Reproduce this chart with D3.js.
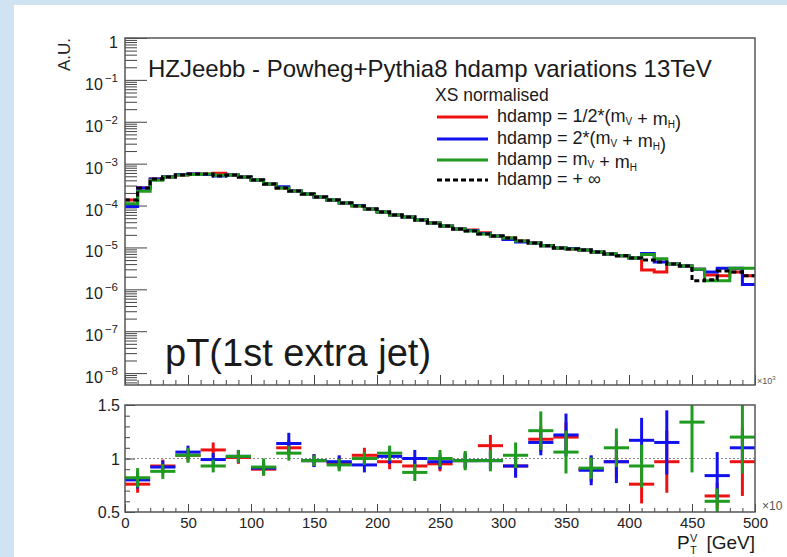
<!DOCTYPE html>
<html><head><meta charset="utf-8">
<script src="https://cdn.jsdelivr.net/npm/d3@7"></script>
<style>
html,body{margin:0;padding:0;background:#cfe3f2;overflow:hidden;}
svg{display:block;font-family:"Liberation Sans",Arial,Helvetica,sans-serif;}
</style></head><body>
<svg id="c" width="787" height="557"></svg>
<script>
// ---------------- data ----------------
const topBinLow = [0,10,20,30,40,50,60,70,80,90,100,110,120,130,140,150,160,170,180,190,
  200,210,220,230,240,250,260,270,280,290,300,310,320,330,340,350,360,370,380,390,
  400,410,420,430,440,450,460,470,480,490];
const topBinWidth = 10;
const ratioBinLow = [0,20,40,60,80,100,120,140,160,180,200,220,240,260,280,300,320,340,360,380,400,420,440,460,480];
const ratioBinWidth = 20;

const seriesNames = ["hdamp = 1/2*(m_V + m_H)","hdamp = 2*(m_V + m_H)","hdamp = m_V + m_H","hdamp = + \u221e"];

// normalised pT distributions (A.U.)
const hHalf = [1.36e-4,2.63e-4,4.31e-4,4.82e-4,5.37e-4,5.68e-4,5.68e-4,5.9e-4,5.37e-4,4.82e-4,
  4.08e-4,3.28e-4,2.63e-4,2.23e-4,1.89e-4,1.60e-4,1.36e-4,1.15e-4,9.8e-5,8.3e-5,
  7.0e-5,5.97e-5,5.35e-5,4.53e-5,3.84e-5,3.26e-5,2.76e-5,2.6e-5,2.25e-5,1.88e-5,
  1.69e-5,1.43e-5,1.28e-5,1.09e-5,9.7e-6,9.2e-6,8.7e-6,7.8e-6,7.0e-6,6.3e-6,
  5.6e-6,2.9e-6,2.6e-6,4.0e-6,3.6e-6,3.0e-6,2.2e-6,2.1e-6,2.6e-6,2.1e-6];
const hTwo = [9.5e-5,2.63e-4,4.31e-4,4.9e-4,5.5e-4,5.68e-4,5.5e-4,5.1e-4,5.37e-4,4.82e-4,
  4.08e-4,3.28e-4,2.8e-4,2.23e-4,1.89e-4,1.60e-4,1.36e-4,1.15e-4,1.0e-4,8.3e-5,
  7.0e-5,5.97e-5,5.35e-5,4.53e-5,3.84e-5,3.26e-5,2.76e-5,2.55e-5,2.15e-5,1.88e-5,
  1.55e-5,1.35e-5,1.28e-5,1.09e-5,9.7e-6,9.4e-6,8.7e-6,7.8e-6,7.0e-6,6.3e-6,
  5.6e-6,7.2e-6,4.5e-6,4.0e-6,3.6e-6,3.0e-6,2.6e-6,3.2e-6,3.2e-6,1.3e-6];
const hOne = [1.1e-4,2.2e-4,4.0e-4,4.82e-4,5.37e-4,5.5e-4,5.68e-4,5.3e-4,5.37e-4,4.82e-4,
  4.08e-4,3.28e-4,2.63e-4,2.23e-4,1.89e-4,1.60e-4,1.36e-4,1.15e-4,9.8e-5,8.3e-5,
  7.0e-5,5.97e-5,5.35e-5,4.53e-5,3.84e-5,3.26e-5,2.76e-5,2.48e-5,2.10e-5,1.88e-5,
  1.69e-5,1.43e-5,1.28e-5,1.09e-5,9.7e-6,9.2e-6,8.7e-6,7.8e-6,7.0e-6,6.3e-6,
  5.6e-6,6.8e-6,5.4e-6,4.0e-6,3.6e-6,3.0e-6,1.6e-6,1.6e-6,3.2e-6,3.2e-6];
const hInf = [1.36e-4,2.63e-4,4.31e-4,4.82e-4,5.37e-4,5.68e-4,5.68e-4,5.1e-4,5.37e-4,4.82e-4,
  4.08e-4,3.28e-4,2.63e-4,2.23e-4,1.89e-4,1.60e-4,1.36e-4,1.15e-4,9.8e-5,8.3e-5,
  7.0e-5,5.97e-5,5.35e-5,4.53e-5,3.84e-5,3.26e-5,2.76e-5,2.48e-5,2.10e-5,1.88e-5,
  1.69e-5,1.43e-5,1.28e-5,1.09e-5,9.7e-6,9.2e-6,8.7e-6,7.8e-6,7.0e-6,6.3e-6,
  5.6e-6,5.0e-6,4.5e-6,4.0e-6,3.6e-6,1.6e-6,1.7e-6,2.75e-6,2.6e-6,2.1e-6];

// ratio to hdamp = +inf (20 GeV bins)
const rHalf = [0.76,0.93,1.03,1.08,1.01,0.90,1.10,0.98,0.96,1.03,0.97,0.93,0.95,0.98,1.12,0.93,1.18,1.20,0.90,0.97,0.76,0.97,null,0.65,0.97];
const rTwo  = [0.80,0.92,1.06,0.99,1.02,0.91,1.14,0.98,0.97,0.94,1.02,1.00,0.97,0.98,0.98,0.93,1.15,1.22,0.89,0.97,1.17,1.15,null,0.84,1.10];
const rOne  = [0.82,0.88,1.03,0.93,1.02,0.92,1.05,0.98,0.94,1.00,1.05,0.87,1.00,0.98,0.98,1.03,1.26,1.06,0.91,1.10,0.93,null,1.34,0.60,1.20];
const eHalf = [0.08,0.06,0.06,0.07,0.06,0.06,0.07,0.06,0.06,0.07,0.07,0.07,0.07,0.07,0.10,0.10,0.12,0.14,0.12,0.15,0.18,0.29,0.30,0.12,0.32];
const eTwo  = [0.08,0.06,0.06,0.06,0.06,0.06,0.10,0.06,0.06,0.07,0.07,0.08,0.07,0.07,0.08,0.11,0.12,0.20,0.14,0.20,0.21,0.30,0.30,0.22,0.15];
const eOne  = [0.09,0.07,0.07,0.06,0.06,0.08,0.07,0.05,0.06,0.06,0.07,0.08,0.08,0.09,0.10,0.12,0.18,0.20,0.10,0.18,0.20,0.25,0.47,0.12,0.34];

const xTickLabels = [0,50,100,150,200,250,300,350,400,450,500];
const yTopMajor = [1e-8,1e-7,1e-6,1e-5,1e-4,1e-3,1e-2,1e-1,1];
const yTopExp = [-8,-7,-6,-5,-4,-3,-2,-1,0];
const yRatioLabels = [0.5,1,1.5];

const colors = ["#ee1111","#1111ee","#1f9b1f","#000000"];

// ---------------- layout ----------------
const svg = d3.select("#c");
svg.append("rect").attr("x",14).attr("y",5).attr("width",773).attr("height",552).attr("fill","#fff");

const X0=125, X1=755, T0=38, T1=385, R0=405, R1=512;
const x = d3.scaleLinear().domain([0,500]).range([X0,X1]);
const y = d3.scaleLog().domain([5.2e-9,1]).range([T1,T0]);
const yr = d3.scaleLinear().domain([0.5,1.5]).range([R1,R0]);
const axisColor = "#444";

const defs = svg.append("defs");
defs.append("clipPath").attr("id","clipTop").append("rect").attr("x",X0).attr("y",T0).attr("width",X1-X0).attr("height",T1-T0);
defs.append("clipPath").attr("id","clipR").append("rect").attr("x",X0).attr("y",R0).attr("width",X1-X0).attr("height",R1-R0);

// --- top panel y axis
const minorTop = [];
for (let k=-9;k<0;k++) for (let m=2;m<=9;m++){ const v=m*Math.pow(10,k); if (v>=5.2e-9 && v<1) minorTop.push(v); }
svg.append("g").attr("transform",`translate(${X0},0)`).attr("color",axisColor)
  .call(d3.axisLeft(y).tickValues(minorTop).tickSize(-12).tickFormat(""))
  .call(g=>g.select(".domain").remove());
svg.append("g").attr("transform",`translate(${X0},0)`).attr("color",axisColor)
  .call(d3.axisLeft(y).tickValues(yTopMajor).tickSize(-22).tickFormat(""))
  .call(g=>g.select(".domain").remove());
yTopMajor.forEach((v,i)=>{
  const t = svg.append("text").attr("x",118).attr("y",y(v)+10).attr("text-anchor","end")
    .attr("font-size",16).attr("fill","#222");
  if (yTopExp[i]===0) { t.text("1"); }
  else {
    t.append("tspan").text("10");
    t.append("tspan").attr("font-size",11.5).attr("dy",-8).attr("dx",2).text("\u2212"+(-yTopExp[i]));
  }
});

// --- top panel x ticks (no labels)
const minorX = d3.range(0,501,10);
svg.append("g").attr("transform",`translate(0,${T1})`).attr("color",axisColor)
  .call(d3.axisBottom(x).tickValues(minorX).tickSize(-5).tickFormat(""))
  .call(g=>g.select(".domain").remove());
svg.append("g").attr("transform",`translate(0,${T1})`).attr("color",axisColor)
  .call(d3.axisBottom(x).tickValues(xTickLabels).tickSize(-10).tickFormat(""))
  .call(g=>g.select(".domain").remove());

// --- histograms
const stepLine = d3.line().x(d=>x(d[0])).y(d=>y(d[1]));
function stepPoints(vals){
  const pts=[];
  vals.forEach((v,i)=>{ pts.push([topBinLow[i],v]); pts.push([topBinLow[i]+topBinWidth,v]); });
  return pts;
}
const histG = svg.append("g").attr("clip-path","url(#clipTop)");
[hHalf,hTwo,hOne,hInf].forEach((vals,si)=>{
  histG.append("path").attr("d",stepLine(stepPoints(vals)))
    .attr("fill","none").attr("stroke",colors[si]).attr("stroke-width",3)
    .attr("stroke-dasharray", si===3 ? "5,3" : null);
});

// --- top frame
svg.append("rect").attr("x",X0).attr("y",T0).attr("width",X1-X0).attr("height",T1-T0)
  .attr("fill","none").attr("stroke","#555").attr("stroke-width",1.5);

// --- texts in top panel
svg.append("text").attr("x",148).attr("y",77).attr("font-size",24).attr("fill","#1a1a1a")
  .text("HZJeebb - Powheg+Pythia8 hdamp variations 13TeV");
svg.append("text").attr("x",165).attr("y",366).attr("font-size",38).attr("fill","#1a1a1a")
  .text("pT(1st extra jet)");

// A.U.
svg.append("text").attr("transform","translate(70,38) rotate(-90)").attr("text-anchor","end")
  .attr("font-size",17).attr("fill","#222").text("A.U.");

// x10^3 marker
const m3 = svg.append("text").attr("x",757).attr("y",384).attr("font-size",9).attr("fill","#555");
m3.append("tspan").text("\u00d710");
m3.append("tspan").attr("font-size",6).attr("dy",-4).text("3");

// --- legend
const legY = [117,139,160,180];
svg.append("text").attr("x",435).attr("y",101).attr("font-size",17.5).attr("fill","#1a1a1a").text("XS normalised");
function legendText(g, yy, parts){
  const t = g.append("text").attr("x",497).attr("y",yy+5).attr("font-size",18).attr("fill","#1a1a1a");
  parts.forEach(p=>{
    if (p.sub) { t.append("tspan").attr("font-size",10).attr("dy",3).text(p.sub); t.append("tspan").attr("dy",-3).text(""); }
    else t.append("tspan").text(p.t);
  });
}
const legG = svg.append("g");
seriesNames.forEach((name,i)=>{
  legG.append("line").attr("x1",437).attr("x2",488).attr("y1",legY[i]).attr("y2",legY[i])
    .attr("stroke",colors[i]).attr("stroke-width",3).attr("stroke-dasharray", i===3 ? "5,3":null);
  const parts = [];
  name.split(/(_[VH])/).forEach(s=>{ if (s.startsWith("_")) parts.push({sub:s.slice(1)}); else if (s) parts.push({t:s}); });
  legendText(legG, legY[i], parts);
});

// --- ratio panel axes
svg.append("g").attr("transform",`translate(${X0},0)`).attr("color",axisColor)
  .call(d3.axisLeft(yr).tickValues(d3.range(0.5,1.501,0.1)).tickSize(-5).tickFormat(""))
  .call(g=>g.select(".domain").remove());
svg.append("g").attr("transform",`translate(${X0},0)`).attr("color",axisColor)
  .call(d3.axisLeft(yr).tickValues(yRatioLabels).tickSize(-10).tickFormat(""))
  .call(g=>g.select(".domain").remove());
yRatioLabels.forEach(v=>{
  svg.append("text").attr("x",120).attr("y",yr(v)+6).attr("text-anchor","end")
    .attr("font-size",16).attr("fill","#222").text(String(v));
});
svg.append("g").attr("transform",`translate(0,${R1})`).attr("color",axisColor)
  .call(d3.axisBottom(x).tickValues(minorX).tickSize(-4).tickFormat(""))
  .call(g=>g.select(".domain").remove());
svg.append("g").attr("transform",`translate(0,${R1})`).attr("color",axisColor)
  .call(d3.axisBottom(x).tickValues(xTickLabels).tickSize(-8).tickPadding(5).tickFormat(d=>String(d)))
  .call(g=>g.select(".domain").remove())
  .call(g=>g.selectAll("text").attr("font-size",15).attr("fill","#222").attr("font-family","Liberation Sans, Arial, sans-serif"));

// reference line at 1
svg.append("line").attr("x1",X0).attr("x2",X1).attr("y1",yr(1)).attr("y2",yr(1))
  .attr("stroke","#888").attr("stroke-width",1).attr("stroke-dasharray","2,2");

// ratio crosses
const rG = svg.append("g").attr("clip-path","url(#clipR)");
[[rHalf,eHalf],[rTwo,eTwo],[rOne,eOne]].forEach(([vals,errs],si)=>{
  vals.forEach((v,i)=>{
    if (v===null) return;
    const lo = ratioBinLow[i], hi = lo+ratioBinWidth, c = lo+ratioBinWidth/2;
    rG.append("line").attr("x1",x(lo)).attr("x2",x(hi)).attr("y1",yr(v)).attr("y2",yr(v))
      .attr("stroke",colors[si]).attr("stroke-width",3);
    rG.append("line").attr("x1",x(c)).attr("x2",x(c)).attr("y1",yr(v-errs[i])).attr("y2",yr(v+errs[i]))
      .attr("stroke",colors[si]).attr("stroke-width",3);
  });
});

svg.append("rect").attr("x",X0).attr("y",R0).attr("width",X1-X0).attr("height",R1-R0)
  .attr("fill","none").attr("stroke","#555").attr("stroke-width",1.5);

// x10 marker
svg.append("text").attr("x",762).attr("y",510).attr("font-size",12).attr("fill","#555").text("\u00d710");

// x axis title
svg.append("text").attr("x",677).attr("y",549).attr("font-size",19).attr("fill","#1a1a1a").text("P");
svg.append("text").attr("x",690).attr("y",554).attr("font-size",11).attr("fill","#1a1a1a").text("T");
svg.append("text").attr("x",690).attr("y",542).attr("font-size",11).attr("fill","#1a1a1a").text("V");
svg.append("text").attr("x",755).attr("y",549).attr("text-anchor","end").attr("font-size",19).attr("fill","#1a1a1a").text("[GeV]");
</script>
</body></html>
